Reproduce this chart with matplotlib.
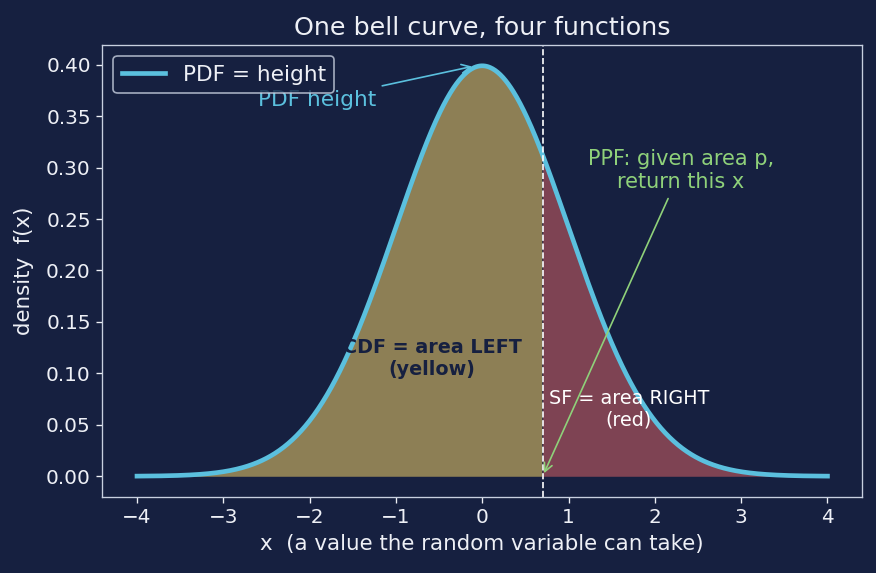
import matplotlib
matplotlib.use("Agg")
import matplotlib.pyplot as plt
import numpy as np

# standard normal, cut point for the shaded areas
mu = 0.0
sigma = 1.0
x_cut = 0.7
x_lo, x_hi = -4.0, 4.0

bg = "#162040"
fg = "#eef0f6"
line_col = "#5bc0de"
ppf_col = "#8fd17a"

x = np.linspace(x_lo, x_hi, 801)
pdf = np.exp(-0.5 * ((x - mu) / sigma) ** 2) / (sigma * np.sqrt(2 * np.pi))
peak = 1 / (sigma * np.sqrt(2 * np.pi))

fig, ax = plt.subplots(figsize=(7.3, 4.775), dpi=120)
fig.patch.set_facecolor(bg)
ax.set_facecolor(bg)

left = x <= x_cut
right = x >= x_cut
ax.fill_between(x[left], 0, pdf[left], color="#f0ce68", alpha=0.55, lw=0)
ax.fill_between(x[right], 0, pdf[right], color="#d56064", alpha=0.55, lw=0)
ax.plot(x, pdf, color=line_col, lw=2.8, label="PDF = height")
ax.axvline(x_cut, color="white", ls="--", lw=1)

ax.annotate("PDF height", xy=(mu - 0.08, peak), xytext=(-2.6, 0.36),
            color=line_col, fontsize=13,
            arrowprops=dict(arrowstyle="->", color=line_col, lw=1))
ax.annotate("PPF: given area p,\nreturn this x", xy=(x_cut, 0.0), xytext=(2.3, 0.28),
            color=ppf_col, fontsize=12.5, ha="center",
            arrowprops=dict(arrowstyle="->", color=ppf_col, lw=1))
ax.text(-0.58, 0.114, "CDF = area LEFT\n(yellow)", color=bg, fontsize=11.5,
        fontweight="bold", ha="center", va="center")
ax.text(1.7, 0.065, "SF = area RIGHT\n(red)", color="white", fontsize=11.5,
        ha="center", va="center")

ax.set_title("One bell curve, four functions", color=fg, fontsize=15.2)
ax.set_xlabel("x  (a value the random variable can take)", color=fg, fontsize=12.8)
ax.set_ylabel("density  f(x)", color=fg, fontsize=12.8, labelpad=7)
ax.tick_params(colors=fg, labelsize=12)
for s in ax.spines.values():
    s.set_color("#c8d0e0")

leg = ax.legend(loc="upper left", fontsize=13, facecolor=bg, edgecolor="#c8d0e0")
for t in leg.get_texts():
    t.set_color(fg)

plt.subplots_adjust(left=0.117, right=0.984, top=0.921, bottom=0.133)
plt.savefig("out.png", facecolor=bg)
